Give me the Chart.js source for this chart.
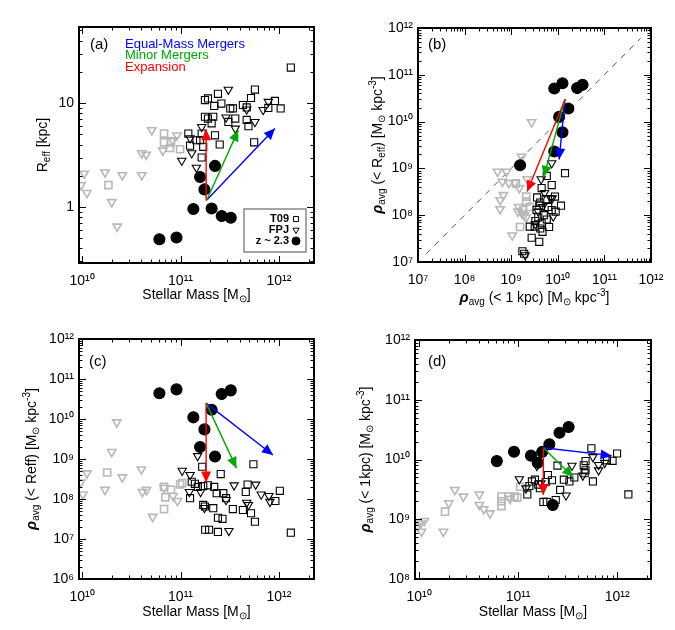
<!DOCTYPE html>
<html><head><meta charset="utf-8">
<script src="https://cdn.jsdelivr.net/npm/chart.js@4.4.1/dist/chart.umd.min.js"></script>
<style>
html,body{margin:0;padding:0;background:#fff}
#wrap{position:relative;width:675px;height:630px;overflow:hidden;background:#fff}
canvas{position:absolute}
</style></head><body>
<div id="wrap">
<canvas id="pa" width="340" height="310" style="left:0;top:0"></canvas>
<canvas id="pb" width="337" height="310" style="left:338px;top:0"></canvas>
<canvas id="pc" width="340" height="320" style="left:0;top:310px"></canvas>
<canvas id="pd" width="337" height="320" style="left:338px;top:310px"></canvas>
</div>
<script>
// ---------------- DATA ----------------
// tick values / labels
const massTicks = [1e10, 1e11, 1e12];
const massTickLabels = ['10¹⁰', '10¹¹', '10¹²'];
const reffTicks = [1, 10];
const reffTickLabels = ['1', '10'];
const rhoTicks = [1e6, 1e7, 1e8, 1e9, 1e10, 1e11, 1e12];
const rhoTickLabels = ['10⁶', '10⁷', '10⁸', '10⁹', '10¹⁰', '10¹¹', '10¹²'];

// Panel (a): stellar mass vs R_eff
const aZ23 = [[6.1e10,0.49],[9.1e10,0.51],[1.35e11,0.96],[2.07e11,0.97],[2.62e11,0.82],[3.24e11,0.79],[1.75e11,1.48],[1.58e11,1.95],[2.24e11,2.49]];
const aGrayTri = [[1.05e10,2.1],[9.8e9,1.63],[1.12e10,1.37],[1.71e10,2.16],[2.56e10,2.03],[4.04e10,2.03],[2.0e10,1.12],[2.27e10,0.65],[5.1e10,5.5],[4.04e10,3.3],[4.47e10,3.2],[9.2e10,4.9],[6.6e10,3.5],[8.3e10,4.4]];
const aGraySq = [[1.85e10,1.63],[6.8e10,5.1],[6.8e10,4.2],[8.0e10,4.2],[7.8e10,3.7],[9.9e10,3.6]];
const aBlackSq = [[1.32e12,22],[1.77e11,10.7],[1.9e11,11.1],[2.4e11,12.3],[2.6e11,9.9],[2.2e11,9.4],[3.2e11,8.9],[3.4e11,8.9],[4.3e11,9.6],[4.7e11,9.1],[5.7e11,13.5],[5.2e11,11.2],[4.7e11,6.9],[4.9e11,6.0],[7.8e11,9.0],[9.1e11,10.5],[1.04e12,8.9],[5.6e11,4.2],[2.5e11,4.0],[2.24e11,4.9],[1.2e11,5.1],[1.45e11,4.4],[1.77e11,7.4],[2.15e11,7.4],[2.07e11,6.4],[1.64e11,5.1],[1.58e11,4.4],[1.25e11,3.9],[1.7e11,3.8],[1.64e11,3.0],[3.6e11,7.1],[3.06e11,6.6],[1.9e11,7.1]];
const aBlackTri = [[3.06e11,13.5],[7.8e11,10.3],[6.9e11,8.6],[5.7e11,6.6],[3.6e11,5.7],[1.64e11,5.9],[1.25e11,4.6],[1.3e11,3.3],[1.03e11,2.8],[1.45e11,2.4],[4.7e11,8.7],[2.9e11,7.3]];
const aArrowFrom = [1.85e11, 1.17];
const aArrowTo = { equal:[9.1e11,5.7], minor:[3.86e11,5.5], expansion:[1.82e11,5.6] };

// Panel (b): rho(<1kpc) vs rho(<Reff)
const bZ23 = [[1.55e9,1.17e9],[8.4e9,5.1e10],[1.26e10,6.6e10],[2.6e10,5.2e10],[3.4e10,6.1e10],[1.68e10,1.9e10],[1.07e10,1.26e10],[1.26e10,5.9e9],[8.4e9,2.3e9]];
const bGrayTri = [[2.75e9,9.7e9],[1.68e9,1.78e9],[5.1e8,8.5e8],[7.9e8,8.5e8],[6.5e8,5.2e8],[8.9e8,4.9e8],[1.2e9,4.9e8],[1.5e9,3.8e8],[6.8e8,2.7e8],[5.8e8,2.1e8],[5.8e8,1.35e8],[1.05e9,3.7e7],[2.2e9,5.9e8],[1.45e9,1.5e8],[1.4e9,1.2e8],[1.7e9,1.1e8],[1.9e9,1.0e8],[2.1e9,9e7]];
const bGraySq = [[1.26e9,4.8e8],[1.55e9,5.6e7],[2.1e9,2.5e8],[2.1e9,1.95e8],[2.5e9,1.5e8],[1.8e9,1.3e8]];
const bBlackSq = [[1.43e10,7.9e8],[5.8e9,6.9e8],[7.4e9,4.4e8],[8.7e9,2.5e8],[1.17e10,1.6e8],[9.0e9,1.19e8],[2.5e9,5.7e7],[3.2e9,5.7e7],[4.5e9,6.7e7],[2.75e9,3.3e7],[4.0e9,2.7e7],[4.7e9,4.4e7],[1.74e9,1.7e7],[1.9e9,1.5e7],[5.8e9,8.1e7],[7.4e9,1.29e8],[4.2e9,1.86e8],[4.5e9,3.8e8],[3.5e9,1.3e8],[3.8e9,9e7],[5.0e9,1.0e8],[6.2e9,1.5e8],[4.2e9,5.2e7],[3.3e9,7.5e7],[5.5e9,2.2e8],[3.6e9,2.4e8],[6.5e9,5.6e7],[4.0e9,1.6e8]];
const bBlackTri = [[4.4e9,5.9e8],[7.4e9,1.29e9],[8.0e9,9.4e7],[3.3e9,6.5e7],[2.0e9,1.4e7],[7.0e9,2.3e8],[7.6e9,2.3e8],[3.8e9,1.2e8],[4.7e9,1.5e8],[5.2e9,3.0e8]];
const bOneToOne = [[1.5e7,1.5e7],[6e11,6e11]];
const bArrowFrom = [1.43e10, 3.0e10];
const bArrowTo = { equal:[1.07e10,1.55e9], minor:[5.0e9,6.6e8], expansion:[2.2e9,3.2e8] };

// Panel (c): stellar mass vs rho(<Reff)
const cZ23 = [[6.1e10,4.4e10],[9.1e10,5.5e10],[2.62e11,4.2e10],[3.24e11,5.2e10],[2.07e11,1.7e10],[1.35e11,1.1e10],[1.75e11,5.5e9],[1.58e11,2.0e9],[2.24e11,1.15e9]];
const cGrayTri = [[2.25e10,8.3e9],[2.0e10,1.5e9],[1.12e10,4.4e8],[9.7e9,2.6e8],[1.02e10,1.3e8],[1.71e10,1.7e8],[2.56e10,3.5e8],[4.0e10,5.5e8],[4.1e10,1.5e8],[4.5e10,1.7e8],[5.2e10,3.6e7],[8.4e10,1.2e8],[9.3e10,9e7],[6.8e10,1.9e8]];
const cGraySq = [[1.8e10,4.6e8],[6.8e10,2.0e8],[7.0e10,1.1e8],[6.8e10,5.6e7],[8.0e10,1.7e8],[9.9e10,2.3e8],[1.04e11,2.5e8]];
const cBlackSq = [[1.66e11,6.4e8],[2.56e11,4.2e8],[5.5e11,7.4e8],[4.8e11,2.3e8],[4.6e11,1.5e8],[9.2e11,8.9e7],[1.02e12,1.6e8],[1.32e12,1.44e7],[1.78e11,1.7e7],[1.95e11,1.7e7],[2.4e11,1.5e7],[2.4e11,3.4e7],[2.67e11,3.2e7],[3.4e11,5.6e7],[4.3e11,5.3e7],[5.2e11,4.4e7],[5.7e11,2.7e7],[2.9e11,1.05e8],[2.33e11,1.4e8],[2.72e11,1.4e8],[1.70e11,7.1e7],[1.77e11,6.5e7],[2.15e11,5.9e7],[1.25e11,1.05e8],[1.3e11,2.7e8],[1.5e11,2.0e8],[1.7e11,2.1e8],[1.9e11,2.2e8],[2.2e11,2.0e8],[1.4e11,2.4e8]];
const cBlackTri = [[1.49e11,1.19e9],[1.04e11,5.1e8],[1.25e11,4.0e8],[3.5e11,2.2e8],[5.8e11,2.3e8],[6.6e11,1.3e8],[7.9e11,1.2e8],[8.1e11,8.5e7],[3.1e11,1.6e7],[4.7e11,8.1e7],[4.9e11,7.1e7],[2.9e11,9.5e7],[1.23e11,1.5e8],[1.75e11,6.0e7],[1.6e11,1.5e8]];
const cArrowFrom = [1.82e11, 2.5e10];
const cArrowTo = { equal:[8.7e11,1.26e9], minor:[3.7e11,5.9e8], expansion:[1.82e11,2.6e8] };

// Panel (d): stellar mass vs rho(<1kpc)
const dZ23 = [[6.1e10,9.4e9],[9.1e10,1.35e10],[1.35e11,1.16e10],[1.58e11,8.8e9],[1.75e11,1.34e10],[2.07e11,1.8e10],[2.62e11,2.8e10],[3.24e11,3.5e10],[2.24e11,1.73e9]];
const dGrayTri = [[1.13e10,9.4e8],[9.6e9,7.7e8],[1.06e10,6.2e8],[1.76e10,6.2e8],[2.3e10,3.1e9],[2.0e10,1.86e9],[2.8e10,2.4e9],[4.06e10,2.6e9],[4.06e10,1.74e9],[4.5e10,1.48e9],[5.2e10,1.26e9],[8.3e10,2.2e9],[1.04e10,8.5e8]];
const dGraySq = [[1.83e10,1.34e9],[6.8e10,2.4e9],[6.8e10,2.0e9],[6.8e10,1.66e9],[8.0e10,2.4e9],[9.2e10,2.4e9],[9.8e10,2.3e9],[1.05e11,3.5e9]];
const dBlackSq = [[5.5e11,1.54e10],[1.0e12,1.26e10],[9.0e11,9.5e9],[7.9e11,9.7e9],[4.8e11,9.4e9],[4.6e11,8.0e9],[4.8e11,6.6e9],[4.7e11,5.9e9],[5.7e11,4.3e9],[1.3e12,2.6e9],[2.5e11,7.9e9],[1.24e11,2.6e9],[1.8e11,1.95e9],[1.95e11,1.95e9],[2.4e11,2.1e9],[2.66e11,3.1e9],[1.66e11,3.3e9],[1.38e11,4.3e9],[1.48e11,4.6e9],[1.6e11,3.8e9],[1.9e11,4.2e9],[2.2e11,4.5e9],[2.9e11,4.6e9],[3.3e11,4.3e9],[3.7e11,5.0e9],[2.0e11,5.5e9],[1.3e11,3.6e9]];
const dBlackTri = [[5.7e11,1.1e10],[6.5e11,8.1e9],[6.5e11,6.6e9],[3.5e11,7.9e9],[1.03e11,4.7e9],[1.2e11,3.3e9],[1.55e11,7.8e9],[3.05e11,2.5e9],[7.5e11,8.8e9],[4.5e11,5.4e9],[1.7e11,4.0e9]];
const dArrowFrom = [1.8e11, 1.57e10];
const dArrowTo = { equal:[8.8e11,1.16e10], minor:[3.6e11,5.1e9], expansion:[1.8e11,2.55e9] };

// texts
const legendLabels = ['T09', 'FPJ', 'z ~ 2.3'];
const arrowNotes = ['Equal-Mass Mergers', 'Minor Mergers', 'Expansion'];
const titleMass = [['Stellar Mass [M',''],['⊙','sub'],[']','']];
const titleReff = [['R',''],['eff','sub'],[' [kpc]','']];
const titleRhoReffB = [['ρ','rho'],['avg','sub'],[' (< R',''],['eff','sub'],[') [M',''],['⊙','sub'],[' kpc',''],['-3','sup'],[']','']];
const titleRho1B = [['ρ','rho'],['avg','sub'],[' (< 1 kpc) [M',''],['⊙','sub'],[' kpc',''],['-3','sup'],[']','']];
const titleRhoReffC = [['ρ','rho'],['avg','sub'],[' (< Reff) [M',''],['⊙','sub'],[' kpc',''],['-3','sup'],[']','']];
const titleRho1D = [['ρ','rho'],['avg','sub'],[' (< 1kpc) [M',''],['⊙','sub'],[' kpc',''],['-3','sup'],[']','']];

// ---------------- STYLE ----------------
const FONT = '"Liberation Sans", Arial, Helvetica, sans-serif';
const GRAY = '#b8b8b8';
const BLUE = '#0000ff', GREEN = '#00a800', RED = '#ff0000';

const pts = arr => arr.map(([x, y]) => ({x, y}));

function symbols(data, kind, color, order) {
  const filled = kind === 'circle';
  return {
    type: 'scatter', data: pts(data), order,
    pointStyle: kind === 'tri' ? 'triangle' : kind,
    pointRotation: kind === 'tri' ? 180 : 0,
    pointRadius: filled ? 5.5 : (kind === 'tri' ? 4.8 : 5),
    pointBorderWidth: color === GRAY ? 1.6 : 1.1,
    pointBorderColor: color,
    pointBackgroundColor: filled ? color : 'rgba(0,0,0,0)',
    pointHoverRadius: 0
  };
}
function arrow(from, to, color) {
  return { type: 'line', data: pts([from, to]), borderColor: color, backgroundColor: color,
    borderWidth: 1.4, pointRadius: 0, fill: false, order: 0, arrowHead: true };
}

function logAxis(min, max, ticks, labels, fit, isY) {
  return {
    type: 'logarithmic', min, max,
    grid: { display: false, drawTicks: false }, border: { display: false },
    ticks: { autoSkip: false, maxRotation: 0, minRotation: 0, padding: isY ? 5 : 10, color: '#000',
      font: { family: FONT, size: 14 },
      callback: (v) => { const i = ticks.findIndex(t => Math.abs(t - v) / t < 1e-6); return i >= 0 ? labels[i] : ''; } },
    afterBuildTicks: (s) => { s.ticks = ticks.filter(t => t >= min * 0.999 && t <= max * 1.001).map(v => ({ value: v })); },
    afterFit: (s) => { if (isY) s.width = fit; else s.height = fit; }
  };
}

function fontFor(m) {
  if (m === 'sub' || m === 'sup') return '10px ' + FONT;
  if (m === 'rho') return 'italic bold 15px ' + FONT;
  return '14px ' + FONT;
}
function drawRich(ctx, segs, cx, cy, rot) {
  ctx.save(); ctx.translate(cx, cy); if (rot) ctx.rotate(-Math.PI / 2);
  let w = 0; for (const [t, m] of segs) { ctx.font = fontFor(m); w += ctx.measureText(t).width; }
  let x = -w / 2;
  ctx.textBaseline = 'middle'; ctx.textAlign = 'left'; ctx.fillStyle = '#000';
  for (const [t, m] of segs) {
    ctx.font = fontFor(m);
    const dy = m === 'sub' ? 4 : (m === 'sup' ? -5 : 0);
    ctx.fillText(t, x, dy); x += ctx.measureText(t).width;
  }
  ctx.restore();
}

function drawSym(ctx, kind, x, y, r, filled) {
  const o = { pointStyle: kind === 'tri' ? 'triangle' : kind, radius: r, rotation: kind === 'tri' ? 180 : 0, borderWidth: 1 };
  ctx.fillStyle = filled ? '#000' : 'rgba(0,0,0,0)'; ctx.strokeStyle = '#000'; ctx.lineWidth = 1;
  if (Chart.helpers && Chart.helpers.drawPoint) Chart.helpers.drawPoint(ctx, o, x, y);
}

const deco = {
  id: 'deco',
  afterDatasetsDraw(chart) {
    const ctx = chart.ctx;
    chart.data.datasets.forEach((ds, i) => {
      if (!ds.arrowHead) return;
      const m = chart.getDatasetMeta(i); const p0 = m.data[0], p1 = m.data[1];
      const ang = Math.atan2(p1.y - p0.y, p1.x - p0.x), L = 11, W = 5;
      const bx = p1.x - L * Math.cos(ang), by = p1.y - L * Math.sin(ang);
      ctx.save(); ctx.fillStyle = ds.borderColor; ctx.beginPath();
      ctx.moveTo(p1.x, p1.y);
      ctx.lineTo(bx + W * Math.sin(ang), by - W * Math.cos(ang));
      ctx.lineTo(bx - W * Math.sin(ang), by + W * Math.cos(ang));
      ctx.closePath(); ctx.fill(); ctx.restore();
    });
  },
  afterDraw(chart, args, o) {
    const { ctx, chartArea: a, scales: { x, y } } = chart;
    ctx.save();
    ctx.strokeStyle = '#000'; ctx.lineWidth = 1;
    const tk = (scale, horiz) => {
      const lo = Math.floor(Math.log10(scale.min)), hi = Math.ceil(Math.log10(scale.max));
      for (let n = lo; n <= hi; n++) for (let k = 1; k <= 9; k++) {
        const v = k * Math.pow(10, n);
        if (v < scale.min * 0.999 || v > scale.max * 1.001) continue;
        const p = Math.round(scale.getPixelForValue(v)) + 0.5, L = k === 1 ? 7 : 3.5;
        ctx.beginPath();
        if (horiz) { ctx.moveTo(p, a.bottom); ctx.lineTo(p, a.bottom - L); ctx.moveTo(p, a.top); ctx.lineTo(p, a.top + L); }
        else { ctx.moveTo(a.left, p); ctx.lineTo(a.left + L, p); ctx.moveTo(a.right, p); ctx.lineTo(a.right - L, p); }
        ctx.stroke();
      }
    };
    tk(x, true); tk(y, false);
    ctx.lineWidth = 2; ctx.strokeRect(a.left, a.top, a.right - a.left, a.bottom - a.top);
    ctx.fillStyle = '#000'; ctx.font = '15px ' + FONT; ctx.textBaseline = 'middle'; ctx.textAlign = 'left';
    ctx.fillText(o.label, a.left + o.labelPos[0], a.top + o.labelPos[1]);
    drawRich(ctx, o.xTitle, (a.left + a.right) / 2, a.bottom + o.xTitleDy, false);
    drawRich(ctx, o.yTitle, a.left - o.yTitleDx, (a.top + a.bottom) / 2, true);
    if (o.notes) {
      ctx.font = '13px ' + FONT; ctx.textAlign = 'left';
      o.notes.forEach(([t, c], i) => { ctx.fillStyle = c; ctx.fillText(t, a.left + 46, a.top + 17 + i * 11.5); });
    }
    if (o.legend) {
      const bx0 = a.right - 70, bx1 = a.right - 8, by0 = a.bottom - 54, by1 = a.bottom - 11;
      ctx.strokeStyle = '#888'; ctx.lineWidth = 1.5; ctx.strokeRect(bx0, by0, bx1 - bx0, by1 - by0);
      ctx.font = 'bold 11px ' + FONT; ctx.textAlign = 'right';
      o.legend.forEach(([t, kind], i) => {
        const yy = by0 + 10 + i * 11;
        ctx.fillStyle = '#000'; ctx.fillText(t, bx1 - 17, yy);
        drawSym(ctx, kind, bx1 - 10, yy, kind === 'circle' ? 4 : 3.6, kind === 'circle');
      });
    }
    ctx.restore();
  }
};

function makeChart(id, cfg) {
  const c = document.getElementById(id);
  const W = c.width, H = c.height, A = cfg.area;
  const ds = [];
  ds.push(arrow(cfg.from, cfg.to.expansion, RED));
  ds.push(arrow(cfg.from, cfg.to.minor, GREEN));
  ds.push(arrow(cfg.from, cfg.to.equal, BLUE));
  ds.push(symbols(cfg.z23, 'circle', '#000', 1));
  ds.push(symbols(cfg.bSq, 'rect', '#000', 2));
  ds.push(symbols(cfg.bTri, 'tri', '#000', 2));
  ds.push(symbols(cfg.gSq, 'rect', GRAY, 3));
  ds.push(symbols(cfg.gTri, 'tri', GRAY, 3));
  if (cfg.extraLine) ds.push({ type: 'line', data: pts(cfg.extraLine), borderColor: '#555', borderWidth: 1,
    borderDash: [6, 6], pointRadius: 0, fill: false, order: 5 });
  new Chart(c, {
    type: 'scatter',
    data: { datasets: ds },
    options: {
      responsive: false, animation: false, events: [],
      layout: { padding: { left: 0, top: A.t, right: W - A.r, bottom: 0 } },
      scales: {
        x: logAxis(cfg.xr[0], cfg.xr[1], cfg.xt, cfg.xl, H - A.b, false),
        y: logAxis(cfg.yr[0], cfg.yr[1], cfg.yt, cfg.yl, A.l, true)
      },
      plugins: { legend: { display: false }, tooltip: { enabled: false }, deco: cfg.deco }
    },
    plugins: [deco]
  });
}

const legendKinds = ['rect', 'tri', 'circle'];

makeChart('pa', {
  area: { l: 79, t: 27, r: 314, b: 263 },
  xr: [9.3e9, 2.27e12], yr: [0.29, 54], xt: massTicks, xl: massTickLabels, yt: reffTicks, yl: reffTickLabels,
  z23: aZ23, bSq: aBlackSq, bTri: aBlackTri, gSq: aGraySq, gTri: aGrayTri,
  from: aArrowFrom, to: aArrowTo,
  deco: { label: '(a)', labelPos: [11, 18], xTitle: titleMass, yTitle: titleReff, xTitleDy: 32, yTitleDx: 36,
    notes: [[arrowNotes[0], BLUE], [arrowNotes[1], GREEN], [arrowNotes[2], RED]],
    legend: legendLabels.map((t, i) => [t, legendKinds[i]]) }
});
makeChart('pb', {
  area: { l: 80, t: 28, r: 313, b: 262 },
  xr: [1e7, 1e12], yr: [1e7, 1e12], xt: rhoTicks, xl: rhoTickLabels, yt: rhoTicks, yl: rhoTickLabels,
  z23: bZ23, bSq: bBlackSq, bTri: bBlackTri, gSq: bGraySq, gTri: bGrayTri,
  from: bArrowFrom, to: bArrowTo, extraLine: bOneToOne,
  deco: { label: '(b)', labelPos: [10, 17], xTitle: titleRho1B, yTitle: titleRhoReffB, xTitleDy: 36, yTitleDx: 40 }
});
makeChart('pc', {
  area: { l: 79, t: 29, r: 314, b: 269 },
  xr: [9.3e9, 2.27e12], yr: [1e6, 1e12], xt: massTicks, xl: massTickLabels, yt: rhoTicks, yl: rhoTickLabels,
  z23: cZ23, bSq: cBlackSq, bTri: cBlackTri, gSq: cGraySq, gTri: cGrayTri,
  from: cArrowFrom, to: cArrowTo,
  deco: { label: '(c)', labelPos: [10, 23], xTitle: titleMass, yTitle: titleRhoReffC, xTitleDy: 33, yTitleDx: 47 }
});
makeChart('pd', {
  area: { l: 77, t: 30, r: 313, b: 269 },
  xr: [9.1e9, 2.2e12], yr: [1e8, 1e12], xt: massTicks, xl: massTickLabels, yt: rhoTicks, yl: rhoTickLabels,
  z23: dZ23, bSq: dBlackSq, bTri: dBlackTri, gSq: dGraySq, gTri: dGrayTri,
  from: dArrowFrom, to: dArrowTo,
  deco: { label: '(d)', labelPos: [13, 22], xTitle: titleMass, yTitle: titleRho1D, xTitleDy: 33, yTitleDx: 49 }
});
</script>
</body></html>
